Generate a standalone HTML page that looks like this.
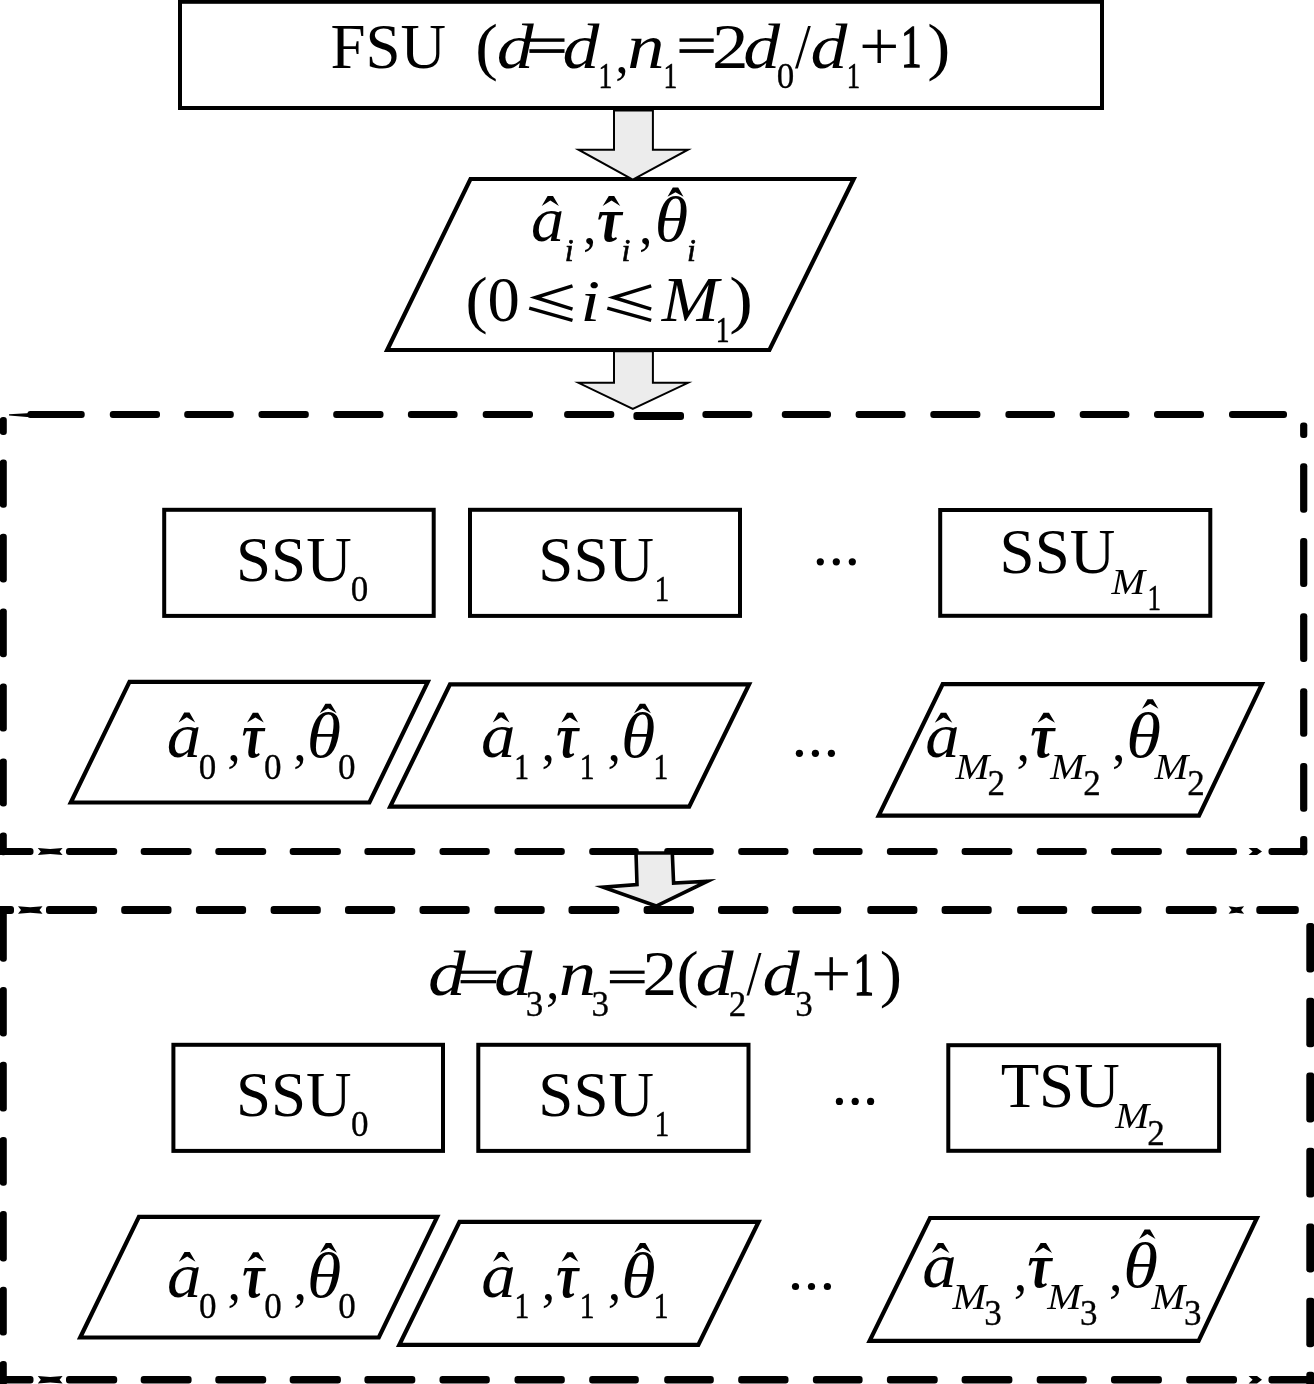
<!DOCTYPE html>
<html><head><meta charset="utf-8"><title>Flow</title>
<style>
html,body{margin:0;padding:0;background:#fff;}
body{width:1314px;height:1384px;overflow:hidden;font-family:"Liberation Serif",serif;}
svg{display:block;will-change:transform;filter:grayscale(1);}
svg text{font-family:"Liberation Serif",serif;fill:#000;}
.dash rect{fill:#000;}
</style></head><body>
<svg width="1314" height="1384" viewBox="0 0 1314 1384">
<rect x="0" y="0" width="1314" height="1384" fill="#fff"/>
<rect x="180.0" y="1.8" width="922.0" height="106.2" fill="none" stroke="#000" stroke-width="4"/>
<polygon points="470.5,179.0 853.7,179.0 769.4,350.0 387.2,350.0" fill="#fff" stroke="#000" stroke-width="4.2" stroke-linejoin="miter" stroke-miterlimit="20"/>
<polygon points="614.0,110.5 614.0,149.7 578.5,149.7 632.8,179.6 688.0,149.7 652.9,149.7 652.9,110.5" fill="#ececec" stroke="#000" stroke-width="2" stroke-linejoin="miter" stroke-miterlimit="20"/>
<g class="dash">
<rect x="27.4" y="410.9" width="57.3" height="7.0" rx="3.0"/>
<rect x="109.8" y="410.9" width="50.2" height="7.0" rx="3.0"/>
<rect x="184.2" y="410.9" width="49.6" height="7.0" rx="3.0"/>
<rect x="258.5" y="410.9" width="50.3" height="7.0" rx="3.0"/>
<rect x="333.2" y="410.9" width="50.3" height="7.0" rx="3.0"/>
<rect x="407.9" y="410.9" width="49.7" height="7.0" rx="3.0"/>
<rect x="482.7" y="410.9" width="50.3" height="7.0" rx="3.0"/>
<rect x="564.1" y="410.9" width="50.2" height="7.0" rx="3.0"/>
<rect x="702.4" y="410.9" width="49.9" height="7.0" rx="3.0"/>
<rect x="781.8" y="410.9" width="49.2" height="7.0" rx="3.0"/>
<rect x="855.6" y="410.9" width="50.0" height="7.0" rx="3.0"/>
<rect x="930.3" y="410.9" width="50.1" height="7.0" rx="3.0"/>
<rect x="1005.4" y="410.9" width="49.6" height="7.0" rx="3.0"/>
<rect x="1079.7" y="410.9" width="49.7" height="7.0" rx="3.0"/>
<rect x="1154.0" y="410.9" width="50.0" height="7.0" rx="3.0"/>
<rect x="1229.0" y="410.9" width="58.0" height="7.0" rx="3.0"/>
<rect x="633.4" y="412.1" width="50.6" height="7.8" rx="3.0"/>
<polygon points="9,414.2 27,413.2 36,412 36,417.5 27,417 9,415.6" fill="#000" stroke="none"/>
<rect x="-0.2" y="417.0" width="7" height="18.0" rx="3.0"/>
<rect x="-0.2" y="459.6" width="7" height="48.1" rx="3.0"/>
<rect x="-0.2" y="533.7" width="7" height="48.7" rx="3.0"/>
<rect x="-0.2" y="608.5" width="7" height="48.7" rx="3.0"/>
<rect x="-0.2" y="683.6" width="7" height="48.0" rx="3.0"/>
<rect x="-0.2" y="758.4" width="7" height="48.0" rx="3.0"/>
<rect x="-0.2" y="832.4" width="7" height="22.8" rx="3.0"/>
<rect x="-4.0" y="848.0" width="37.5" height="7.0" rx="3.0"/>
<rect x="66.0" y="848.0" width="51.2" height="7.0" rx="3.0"/>
<rect x="140.7" y="848.0" width="50.9" height="7.0" rx="3.0"/>
<rect x="215.3" y="848.0" width="50.9" height="7.0" rx="3.0"/>
<rect x="289.7" y="848.0" width="51.2" height="7.0" rx="3.0"/>
<rect x="364.4" y="848.0" width="50.9" height="7.0" rx="3.0"/>
<rect x="439.5" y="848.0" width="50.3" height="7.0" rx="3.0"/>
<rect x="514.5" y="848.0" width="50.3" height="7.0" rx="3.0"/>
<rect x="589.2" y="848.0" width="49.6" height="7.0" rx="3.0"/>
<rect x="664.2" y="848.0" width="49.6" height="7.0" rx="3.0"/>
<rect x="738.2" y="848.0" width="50.3" height="7.0" rx="3.0"/>
<rect x="812.9" y="848.0" width="49.7" height="7.0" rx="3.0"/>
<rect x="886.9" y="848.0" width="50.8" height="7.0" rx="3.0"/>
<rect x="961.6" y="848.0" width="50.8" height="7.0" rx="3.0"/>
<rect x="1036.7" y="848.0" width="50.1" height="7.0" rx="3.0"/>
<rect x="1111.0" y="848.0" width="50.9" height="7.0" rx="3.0"/>
<rect x="1186.2" y="848.0" width="50.8" height="7.0" rx="3.0"/>
<rect x="1268.5" y="848.0" width="38.8" height="7.0" rx="3.0"/>
<polygon points="37.8,848.0 50.2,849.0 62.6,848.0 59.6,851.5 62.6,855.0 50.2,854.0 37.8,855.0 40.8,851.5" fill="#000" stroke="none"/>
<polygon points="1248.6,848.0 1257.0,848.0 1262.0,851.5 1257.0,855.0 1248.6,855.0 1252.6,851.5" fill="#000" stroke="none"/>
<rect x="1300.1" y="422.4" width="7.2" height="15.6" rx="3.0"/>
<rect x="1300.1" y="463.2" width="7.2" height="49.5" rx="3.0"/>
<rect x="1300.1" y="538.0" width="7.2" height="49.1" rx="3.0"/>
<rect x="1300.1" y="613.2" width="7.2" height="48.8" rx="3.0"/>
<rect x="1300.1" y="688.3" width="7.2" height="48.4" rx="3.0"/>
<rect x="1300.1" y="763.0" width="7.2" height="48.8" rx="3.0"/>
<rect x="1300.1" y="836.0" width="7.2" height="19.2" rx="3.0"/>
<rect x="-4.0" y="906.0" width="18.0" height="8" rx="3.0"/>
<rect x="46.0" y="906.0" width="51.1" height="8" rx="3.0"/>
<rect x="121.2" y="906.0" width="50.3" height="8" rx="3.0"/>
<rect x="195.9" y="906.0" width="50.2" height="8" rx="3.0"/>
<rect x="270.6" y="906.0" width="50.2" height="8" rx="3.0"/>
<rect x="345.0" y="906.0" width="50.2" height="8" rx="3.0"/>
<rect x="419.5" y="906.0" width="50.2" height="8" rx="3.0"/>
<rect x="494.4" y="906.0" width="50.3" height="8" rx="3.0"/>
<rect x="568.5" y="906.0" width="50.9" height="8" rx="3.0"/>
<rect x="643.6" y="906.0" width="50.4" height="8" rx="3.0"/>
<rect x="718.0" y="906.0" width="50.4" height="8" rx="3.0"/>
<rect x="792.5" y="906.0" width="48.7" height="8" rx="3.0"/>
<rect x="867.3" y="906.0" width="50.1" height="8" rx="3.0"/>
<rect x="941.6" y="906.0" width="50.1" height="8" rx="3.0"/>
<rect x="1017.1" y="906.0" width="50.1" height="8" rx="3.0"/>
<rect x="1091.5" y="906.0" width="50.0" height="8" rx="3.0"/>
<rect x="1165.8" y="906.0" width="50.9" height="8" rx="3.0"/>
<rect x="1256.3" y="906.0" width="42.5" height="8" rx="3.0"/>
<polygon points="18.0,906.2 30.2,907.2 42.5,906.2 39.5,910.0 42.5,913.8 30.2,912.8 18.0,913.8 21.0,910.0" fill="#000" stroke="none"/>
<polygon points="1228.6,906.2 1236.3,907.2 1244.1,906.2 1241.1,910.0 1244.1,913.8 1236.3,912.8 1228.6,913.8 1231.6,910.0" fill="#000" stroke="none"/>
<rect x="-0.2" y="906.0" width="7" height="55.7" rx="3.0"/>
<rect x="-0.2" y="987.0" width="7" height="49.5" rx="3.0"/>
<rect x="-0.2" y="1061.7" width="7" height="49.9" rx="3.0"/>
<rect x="-0.2" y="1136.9" width="7" height="48.8" rx="3.0"/>
<rect x="-0.2" y="1211.0" width="7" height="50.5" rx="3.0"/>
<rect x="-0.2" y="1286.8" width="7" height="48.8" rx="3.0"/>
<rect x="-0.2" y="1360.9" width="7" height="31.1" rx="3.0"/>
<rect x="-4.0" y="1376.0" width="37.5" height="7.5" rx="3.0"/>
<rect x="66.0" y="1376.0" width="51.2" height="7.5" rx="3.0"/>
<rect x="140.7" y="1376.0" width="50.9" height="7.5" rx="3.0"/>
<rect x="215.3" y="1376.0" width="50.9" height="7.5" rx="3.0"/>
<rect x="289.7" y="1376.0" width="51.2" height="7.5" rx="3.0"/>
<rect x="364.4" y="1376.0" width="50.9" height="7.5" rx="3.0"/>
<rect x="439.5" y="1376.0" width="50.3" height="7.5" rx="3.0"/>
<rect x="514.5" y="1376.0" width="50.3" height="7.5" rx="3.0"/>
<rect x="589.2" y="1376.0" width="49.6" height="7.5" rx="3.0"/>
<rect x="664.2" y="1376.0" width="49.6" height="7.5" rx="3.0"/>
<rect x="738.2" y="1376.0" width="50.3" height="7.5" rx="3.0"/>
<rect x="812.9" y="1376.0" width="49.7" height="7.5" rx="3.0"/>
<rect x="886.9" y="1376.0" width="50.8" height="7.5" rx="3.0"/>
<rect x="961.6" y="1376.0" width="50.8" height="7.5" rx="3.0"/>
<rect x="1036.7" y="1376.0" width="50.1" height="7.5" rx="3.0"/>
<rect x="1111.0" y="1376.0" width="50.9" height="7.5" rx="3.0"/>
<rect x="1186.2" y="1376.0" width="50.8" height="7.5" rx="3.0"/>
<rect x="1268.5" y="1376.0" width="51.5" height="7.5" rx="3.0"/>
<polygon points="37.8,1376.0 50.2,1377.0 62.6,1376.0 59.6,1379.7 62.6,1383.5 50.2,1382.5 37.8,1383.5 40.8,1379.7" fill="#000" stroke="none"/>
<polygon points="1248.6,1376.0 1257.0,1376.0 1262.0,1379.7 1257.0,1383.5 1248.6,1383.5 1252.6,1379.7" fill="#000" stroke="none"/>
<rect x="1306.3" y="923.0" width="8" height="49.5" rx="3.0"/>
<rect x="1306.3" y="997.8" width="8" height="49.5" rx="3.0"/>
<rect x="1306.3" y="1072.6" width="8" height="49.8" rx="3.0"/>
<rect x="1306.3" y="1147.7" width="8" height="49.9" rx="3.0"/>
<rect x="1306.3" y="1223.6" width="8" height="48.8" rx="3.0"/>
<rect x="1306.3" y="1297.7" width="8" height="49.5" rx="3.0"/>
<rect x="1306.3" y="1371.7" width="8" height="20.3" rx="3.0"/>
</g>
<polygon points="614.0,351.3 614.0,382.8 578.5,382.8 632.8,408.8 688.0,382.8 652.9,382.8 652.9,351.3" fill="#ececec" stroke="#000" stroke-width="2" stroke-linejoin="miter" stroke-miterlimit="20"/>
<polygon points="636.0,853.0 637.0,884.5 603.0,887.2 656.2,906.0 707.5,881.2 673.6,883.0 672.3,853.0" fill="#ececec" stroke="#000" stroke-width="3.6" stroke-linejoin="miter" stroke-miterlimit="20"/>
<rect x="164.2" y="509.8" width="269.5" height="106.1" fill="none" stroke="#000" stroke-width="4.0"/>
<rect x="470.0" y="509.8" width="270.0" height="106.1" fill="none" stroke="#000" stroke-width="4.0"/>
<rect x="940.2" y="510.0" width="270.1" height="105.8" fill="none" stroke="#000" stroke-width="4.0"/>
<polygon points="129.5,681.8 427.8,681.8 369.4,802.5 70.8,802.5" fill="none" stroke="#000" stroke-width="4.2" stroke-linejoin="miter" stroke-miterlimit="20"/>
<polygon points="450.0,684.4 749.1,684.4 689.2,806.6 390.2,806.6" fill="none" stroke="#000" stroke-width="4.2" stroke-linejoin="miter" stroke-miterlimit="20"/>
<polygon points="942.7,684.2 1261.9,684.2 1199.0,815.6 878.7,815.6" fill="none" stroke="#000" stroke-width="4.2" stroke-linejoin="miter" stroke-miterlimit="20"/>
<rect x="173.4" y="1044.8" width="269.6" height="106.1" fill="none" stroke="#000" stroke-width="4.0"/>
<rect x="478.3" y="1044.8" width="270.2" height="106.1" fill="none" stroke="#000" stroke-width="4.0"/>
<rect x="948.3" y="1045.2" width="270.8" height="105.6" fill="none" stroke="#000" stroke-width="4.0"/>
<polygon points="138.9,1216.8 437.2,1216.8 378.8,1337.5 80.2,1337.5" fill="none" stroke="#000" stroke-width="4.2" stroke-linejoin="miter" stroke-miterlimit="20"/>
<polygon points="459.5,1221.9 758.6,1221.9 698.3,1344.8 399.3,1344.8" fill="none" stroke="#000" stroke-width="4.2" stroke-linejoin="miter" stroke-miterlimit="20"/>
<polygon points="930.0,1218.0 1256.9,1218.0 1198.6,1340.9 869.6,1340.9" fill="none" stroke="#000" stroke-width="4.2" stroke-linejoin="miter" stroke-miterlimit="20"/>
<circle cx="820.3" cy="561.8" r="3.6" fill="#000"/>
<circle cx="836.3" cy="561.8" r="3.6" fill="#000"/>
<circle cx="852.3" cy="561.8" r="3.6" fill="#000"/>
<circle cx="799.4" cy="753.3" r="3.6" fill="#000"/>
<circle cx="815.4" cy="753.3" r="3.6" fill="#000"/>
<circle cx="831.4" cy="753.3" r="3.6" fill="#000"/>
<circle cx="839.4" cy="1101.4" r="3.6" fill="#000"/>
<circle cx="855.2" cy="1101.4" r="3.6" fill="#000"/>
<circle cx="870.6" cy="1101.4" r="3.6" fill="#000"/>
<circle cx="795.5" cy="1286.5" r="3.6" fill="#000"/>
<circle cx="811.5" cy="1286.5" r="3.6" fill="#000"/>
<circle cx="827.4" cy="1286.5" r="3.6" fill="#000"/>
<text transform="translate(330.52,67.80) scale(1.0000,1.0000)" font-size="63">FSU</text>
<text transform="translate(475.31,67.80) scale(1.0815,1.0000)" font-size="63">(</text>
<text transform="translate(496.86,67.80) scale(1.1732,1.0000)" font-size="63" font-style="italic">d</text>
<rect x="529.4" y="38.4" width="35.1" height="3.4" fill="#000"/>
<rect x="529.4" y="49.2" width="35.1" height="3.7" fill="#000"/>
<text transform="translate(562.57,67.80) scale(1.1699,1.0000)" font-size="63" font-style="italic">d</text>
<text transform="translate(598.38,87.60) scale(0.7872,1.0000)" font-size="35" stroke="#000" stroke-width="0.55">1</text>
<text transform="translate(615.32,73.20) scale(1.0000,1.0000)" font-size="54">,</text>
<text transform="translate(627.34,67.80) scale(1.1824,1.0000)" font-size="63" font-style="italic">n</text>
<text transform="translate(663.48,87.60) scale(0.7872,1.0000)" font-size="35" stroke="#000" stroke-width="0.55">1</text>
<rect x="679.5" y="38.4" width="34.2" height="3.4" fill="#000"/>
<rect x="679.5" y="49.2" width="34.2" height="3.7" fill="#000"/>
<text transform="translate(711.99,67.80) scale(1.1601,1.0000)" font-size="63">2</text>
<text transform="translate(743.27,67.80) scale(1.1699,1.0000)" font-size="63" font-style="italic">d</text>
<text transform="translate(776.85,88.00) scale(1.0000,1.0000)" font-size="35" stroke="#000" stroke-width="0.3">0</text>
<text transform="translate(795.00,67.80) scale(0.9027,1.0000)" font-size="63">/</text>
<text transform="translate(810.57,67.80) scale(1.1699,1.0000)" font-size="63" font-style="italic">d</text>
<text transform="translate(846.85,87.80) scale(0.7629,1.0000)" font-size="35" stroke="#000" stroke-width="0.55">1</text>
<rect x="862.6" y="44.6" width="33.3" height="3.4" fill="#000"/>
<rect x="877.5" y="29.7" width="3.4" height="33.3" fill="#000"/>
<text transform="translate(901.08,67.10) scale(0.6538,0.9663)" font-size="63" stroke="#000" stroke-width="1.4" vector-effect="non-scaling-stroke">1</text>
<text transform="translate(927.27,67.80) scale(1.1001,1.0000)" font-size="63">)</text>
<text transform="translate(531.12,240.60) scale(1.0530,1.0000)" font-size="63" font-style="italic">a</text>
<path d="M541.8,205.9 L547.6,196.0 L553.0,196.0 L558.9,205.9 L550.3,200.6 Z" fill="#000"/>
<text transform="translate(564.65,261.20) scale(1.0000,1.0000)" font-size="32" font-style="italic" stroke="#000" stroke-width="0.6">i</text>
<text transform="translate(583.02,244.20) scale(1.0000,1.0000)" font-size="54">,</text>
<text transform="translate(596.95,240.60) scale(0.8879,1.0000)" font-size="63" font-style="italic" font-weight="bold">τ</text>
<path d="M602.7,205.9 L608.8,196.0 L614.2,196.0 L620.2,205.9 L611.5,200.6 Z" fill="#000"/>
<text transform="translate(621.55,261.20) scale(1.0000,1.0000)" font-size="32" font-style="italic" stroke="#000" stroke-width="0.6">i</text>
<text transform="translate(639.02,244.20) scale(1.0000,1.0000)" font-size="54">,</text>
<text transform="translate(654.68,240.60) scale(1.0798,1.0000)" font-size="63" font-style="italic">θ</text>
<path d="M667.5,196.8 L672.8,187.6 L678.2,187.6 L683.5,196.8 L675.5,192.2 Z" fill="#000"/>
<text transform="translate(686.95,261.20) scale(1.0000,1.0000)" font-size="32" font-style="italic" stroke="#000" stroke-width="0.6">i</text>
<text transform="translate(465.57,321.40) scale(1.0568,1.0000)" font-size="63">(</text>
<text transform="translate(487.44,321.40) scale(1.0262,1.0000)" font-size="63">0</text>
<path d="M572.5,285.8 L535.4,297.5 L572.5,309.2" fill="none" stroke="#000" stroke-width="3.5" stroke-linejoin="miter"/>
<path d="M529.2,308.1 L572.5,320.4" fill="none" stroke="#000" stroke-width="3.5"/>
<text transform="translate(580.58,321.40) scale(1.1167,0.9446)" font-size="63" font-style="italic">i</text>
<path d="M651.2,285.8 L613.5,297.5 L651.2,309.2" fill="none" stroke="#000" stroke-width="3.5" stroke-linejoin="miter"/>
<path d="M607.3,308.1 L651.2,320.4" fill="none" stroke="#000" stroke-width="3.5"/>
<text transform="translate(661.70,321.40) scale(1.0854,1.0000)" font-size="63" font-style="italic">M</text>
<text transform="translate(715.78,342.10) scale(0.7872,1.0000)" font-size="35" stroke="#000" stroke-width="0.55">1</text>
<text transform="translate(729.32,321.40) scale(1.1248,1.0000)" font-size="63">)</text>
<text transform="translate(236.07,581.30) scale(1.0000,1.0000)" font-size="63">SSU</text>
<text transform="translate(350.70,600.80) scale(1.0000,1.0000)" font-size="35" stroke="#000" stroke-width="0.3">0</text>
<text transform="translate(538.37,581.30) scale(1.0000,1.0000)" font-size="63">SSU</text>
<text transform="translate(654.75,600.80) scale(0.8278,1.0000)" font-size="35" stroke="#000" stroke-width="0.55">1</text>
<text transform="translate(999.62,573.20) scale(1.0000,1.0000)" font-size="63">SSU</text>
<text transform="translate(1111.47,593.70) scale(1.1166,1.0000)" font-size="36" font-style="italic">M</text>
<text transform="translate(1147.43,609.70) scale(0.7710,1.0000)" font-size="35" stroke="#000" stroke-width="0.55">1</text>
<text transform="translate(166.75,757.30) scale(1.0934,1.0000)" font-size="63" font-style="italic">a</text>
<path d="M178.5,722.4 L184.2,712.6 L189.5,712.6 L195.2,722.4 L186.8,717.2 Z" fill="#000"/>
<text transform="translate(198.70,778.90) scale(1.0000,1.0000)" font-size="35" stroke="#000" stroke-width="0.3">0</text>
<text transform="translate(227.22,760.90) scale(1.0000,1.0000)" font-size="54">,</text>
<text transform="translate(241.87,757.30) scale(0.7994,1.0000)" font-size="63" font-style="italic" font-weight="bold">τ</text>
<path d="M247.1,722.4 L252.8,712.8 L258.1,712.8 L263.8,722.4 L255.4,717.4 Z" fill="#000"/>
<text transform="translate(264.00,778.90) scale(1.0000,1.0000)" font-size="35" stroke="#000" stroke-width="0.3">0</text>
<text transform="translate(293.17,760.90) scale(1.0000,1.0000)" font-size="54">,</text>
<text transform="translate(306.69,757.30) scale(1.1101,1.0000)" font-size="63" font-style="italic">θ</text>
<path d="M319.7,713.3 L325.4,703.7 L330.8,703.7 L336.6,713.3 L328.1,708.3 Z" fill="#000"/>
<text transform="translate(337.95,778.90) scale(1.0000,1.0000)" font-size="35" stroke="#000" stroke-width="0.3">0</text>
<text transform="translate(481.05,757.30) scale(1.0934,1.0000)" font-size="63" font-style="italic">a</text>
<path d="M492.8,722.4 L498.4,712.6 L503.8,712.6 L509.5,722.4 L501.1,717.2 Z" fill="#000"/>
<text transform="translate(514.35,778.90) scale(0.8440,1.0000)" font-size="35" stroke="#000" stroke-width="0.55">1</text>
<text transform="translate(541.52,760.90) scale(1.0000,1.0000)" font-size="54">,</text>
<text transform="translate(556.17,757.30) scale(0.7994,1.0000)" font-size="63" font-style="italic" font-weight="bold">τ</text>
<path d="M561.4,722.4 L567.0,712.8 L572.5,712.8 L578.1,722.4 L569.8,717.4 Z" fill="#000"/>
<text transform="translate(579.65,778.90) scale(0.8440,1.0000)" font-size="35" stroke="#000" stroke-width="0.55">1</text>
<text transform="translate(607.47,760.90) scale(1.0000,1.0000)" font-size="54">,</text>
<text transform="translate(620.99,757.30) scale(1.1101,1.0000)" font-size="63" font-style="italic">θ</text>
<path d="M634.0,713.3 L639.8,703.7 L645.2,703.7 L650.9,713.3 L642.5,708.3 Z" fill="#000"/>
<text transform="translate(653.60,778.90) scale(0.8440,1.0000)" font-size="35" stroke="#000" stroke-width="0.55">1</text>
<text transform="translate(167.05,1296.70) scale(1.0934,1.0000)" font-size="63" font-style="italic">a</text>
<path d="M178.8,1261.8 L184.5,1252.0 L189.8,1252.0 L195.5,1261.8 L187.2,1256.6 Z" fill="#000"/>
<text transform="translate(199.00,1318.30) scale(1.0000,1.0000)" font-size="35" stroke="#000" stroke-width="0.3">0</text>
<text transform="translate(227.52,1300.30) scale(1.0000,1.0000)" font-size="54">,</text>
<text transform="translate(242.17,1296.70) scale(0.7994,1.0000)" font-size="63" font-style="italic" font-weight="bold">τ</text>
<path d="M247.4,1261.8 L253.1,1252.2 L258.4,1252.2 L264.1,1261.8 L255.8,1256.8 Z" fill="#000"/>
<text transform="translate(264.30,1318.30) scale(1.0000,1.0000)" font-size="35" stroke="#000" stroke-width="0.3">0</text>
<text transform="translate(293.47,1300.30) scale(1.0000,1.0000)" font-size="54">,</text>
<text transform="translate(306.99,1296.70) scale(1.1101,1.0000)" font-size="63" font-style="italic">θ</text>
<path d="M320.0,1252.7 L325.8,1243.1 L331.2,1243.1 L336.9,1252.7 L328.5,1247.7 Z" fill="#000"/>
<text transform="translate(338.25,1318.30) scale(1.0000,1.0000)" font-size="35" stroke="#000" stroke-width="0.3">0</text>
<text transform="translate(481.25,1296.70) scale(1.0934,1.0000)" font-size="63" font-style="italic">a</text>
<path d="M493.0,1261.8 L498.7,1252.0 L504.1,1252.0 L509.7,1261.8 L501.4,1256.6 Z" fill="#000"/>
<text transform="translate(514.55,1318.30) scale(0.8440,1.0000)" font-size="35" stroke="#000" stroke-width="0.55">1</text>
<text transform="translate(541.72,1300.30) scale(1.0000,1.0000)" font-size="54">,</text>
<text transform="translate(556.37,1296.70) scale(0.7994,1.0000)" font-size="63" font-style="italic" font-weight="bold">τ</text>
<path d="M561.6,1261.8 L567.2,1252.2 L572.7,1252.2 L578.3,1261.8 L570.0,1256.8 Z" fill="#000"/>
<text transform="translate(579.85,1318.30) scale(0.8440,1.0000)" font-size="35" stroke="#000" stroke-width="0.55">1</text>
<text transform="translate(607.67,1300.30) scale(1.0000,1.0000)" font-size="54">,</text>
<text transform="translate(621.19,1296.70) scale(1.1101,1.0000)" font-size="63" font-style="italic">θ</text>
<path d="M634.2,1252.7 L640.0,1243.1 L645.4,1243.1 L651.1,1252.7 L642.7,1247.7 Z" fill="#000"/>
<text transform="translate(653.80,1318.30) scale(0.8440,1.0000)" font-size="35" stroke="#000" stroke-width="0.55">1</text>
<text transform="translate(925.16,757.00) scale(1.0897,1.0000)" font-size="63" font-style="italic">a</text>
<path d="M934.8,722.7 L940.8,712.8 L946.2,712.8 L952.3,722.7 L943.5,717.4 Z" fill="#000"/>
<text transform="translate(955.38,778.60) scale(1.1290,1.0000)" font-size="36" font-style="italic">M</text>
<text transform="translate(987.50,795.00) scale(1.0000,1.0000)" font-size="35" stroke="#000" stroke-width="0.3">2</text>
<text transform="translate(1016.57,760.60) scale(1.0000,1.0000)" font-size="54">,</text>
<text transform="translate(1030.28,757.00) scale(0.8631,1.0000)" font-size="63" font-style="italic" font-weight="bold">τ</text>
<path d="M1037.5,722.7 L1043.5,712.8 L1049.0,712.8 L1055.0,722.7 L1046.2,717.4 Z" fill="#000"/>
<text transform="translate(1050.18,778.60) scale(1.1384,1.0000)" font-size="36" font-style="italic">M</text>
<text transform="translate(1083.20,795.00) scale(1.0000,1.0000)" font-size="35" stroke="#000" stroke-width="0.3">2</text>
<text transform="translate(1111.97,760.60) scale(1.0000,1.0000)" font-size="54">,</text>
<text transform="translate(1126.24,757.00) scale(1.1253,1.0000)" font-size="63" font-style="italic">θ</text>
<path d="M1142.0,708.7 L1147.5,699.2 L1152.9,699.2 L1158.4,708.7 L1150.2,703.8 Z" fill="#000"/>
<text transform="translate(1154.38,778.60) scale(1.1259,1.0000)" font-size="36" font-style="italic">M</text>
<text transform="translate(1187.35,795.00) scale(1.0000,1.0000)" font-size="35" stroke="#000" stroke-width="0.3">2</text>
<text transform="translate(922.26,1287.30) scale(1.0897,1.0000)" font-size="63" font-style="italic">a</text>
<path d="M931.9,1253.0 L937.9,1243.1 L943.4,1243.1 L949.4,1253.0 L940.6,1247.7 Z" fill="#000"/>
<text transform="translate(952.48,1308.90) scale(1.1290,1.0000)" font-size="36" font-style="italic">M</text>
<text transform="translate(984.25,1325.30) scale(1.0000,1.0000)" font-size="35" stroke="#000" stroke-width="0.3">3</text>
<text transform="translate(1013.67,1290.90) scale(1.0000,1.0000)" font-size="54">,</text>
<text transform="translate(1027.38,1287.30) scale(0.8631,1.0000)" font-size="63" font-style="italic" font-weight="bold">τ</text>
<path d="M1034.6,1253.0 L1040.6,1243.1 L1046.0,1243.1 L1052.1,1253.0 L1043.3,1247.7 Z" fill="#000"/>
<text transform="translate(1047.28,1308.90) scale(1.1384,1.0000)" font-size="36" font-style="italic">M</text>
<text transform="translate(1079.95,1325.30) scale(1.0000,1.0000)" font-size="35" stroke="#000" stroke-width="0.3">3</text>
<text transform="translate(1109.07,1290.90) scale(1.0000,1.0000)" font-size="54">,</text>
<text transform="translate(1123.34,1287.30) scale(1.1253,1.0000)" font-size="63" font-style="italic">θ</text>
<path d="M1139.1,1239.0 L1144.6,1229.5 L1150.0,1229.5 L1155.5,1239.0 L1147.3,1234.1 Z" fill="#000"/>
<text transform="translate(1151.47,1308.90) scale(1.1259,1.0000)" font-size="36" font-style="italic">M</text>
<text transform="translate(1184.10,1325.30) scale(1.0000,1.0000)" font-size="35" stroke="#000" stroke-width="0.3">3</text>
<text transform="translate(428.02,995.30) scale(1.1968,1.0000)" font-size="63" font-style="italic">d</text>
<rect x="460.6" y="970.6" width="35.6" height="3.2" fill="#000"/>
<rect x="460.6" y="980.1" width="35.6" height="3.2" fill="#000"/>
<text transform="translate(493.88,995.30) scale(1.2169,1.0000)" font-size="63" font-style="italic">d</text>
<text transform="translate(525.85,1016.10) scale(1.0000,1.0000)" font-size="35" stroke="#000" stroke-width="0.3">3</text>
<text transform="translate(545.97,998.90) scale(1.0000,1.0000)" font-size="54">,</text>
<text transform="translate(558.84,995.30) scale(1.1862,1.0000)" font-size="63" font-style="italic">n</text>
<text transform="translate(591.45,1016.10) scale(1.0000,1.0000)" font-size="35" stroke="#000" stroke-width="0.3">3</text>
<rect x="609.9" y="970.6" width="34.7" height="3.2" fill="#000"/>
<rect x="609.9" y="980.1" width="34.7" height="3.2" fill="#000"/>
<text transform="translate(642.56,995.30) scale(1.0968,1.0000)" font-size="63">2</text>
<text transform="translate(676.47,995.30) scale(1.0568,1.0000)" font-size="63">(</text>
<text transform="translate(695.49,995.30) scale(1.2102,1.0000)" font-size="63" font-style="italic">d</text>
<text transform="translate(728.70,1016.10) scale(1.0000,1.0000)" font-size="35" stroke="#000" stroke-width="0.3">2</text>
<text transform="translate(746.50,995.30) scale(0.8570,1.0000)" font-size="63">/</text>
<text transform="translate(762.45,995.30) scale(1.1800,1.0000)" font-size="63" font-style="italic">d</text>
<text transform="translate(795.15,1016.10) scale(1.0000,1.0000)" font-size="35" stroke="#000" stroke-width="0.3">3</text>
<rect x="814.7" y="972.1" width="33.1" height="3.4" fill="#000"/>
<rect x="829.5" y="957.2" width="3.4" height="33.1" fill="#000"/>
<text transform="translate(853.75,994.60) scale(0.6402,0.9663)" font-size="63" stroke="#000" stroke-width="1.4" vector-effect="non-scaling-stroke">1</text>
<text transform="translate(879.64,995.30) scale(1.0630,1.0000)" font-size="63">)</text>
<text transform="translate(235.97,1116.30) scale(1.0000,1.0000)" font-size="63">SSU</text>
<text transform="translate(351.05,1135.80) scale(1.0000,1.0000)" font-size="35" stroke="#000" stroke-width="0.3">0</text>
<text transform="translate(538.37,1116.30) scale(1.0000,1.0000)" font-size="63">SSU</text>
<text transform="translate(654.75,1135.80) scale(0.8278,1.0000)" font-size="35" stroke="#000" stroke-width="0.55">1</text>
<text transform="translate(1000.63,1107.10) scale(1.0000,1.0000)" font-size="63">TSU</text>
<text transform="translate(1115.28,1128.00) scale(1.1290,1.0000)" font-size="36" font-style="italic">M</text>
<text transform="translate(1147.35,1144.70) scale(1.0000,1.0000)" font-size="35" stroke="#000" stroke-width="0.3">2</text>
</svg>
</body></html>
